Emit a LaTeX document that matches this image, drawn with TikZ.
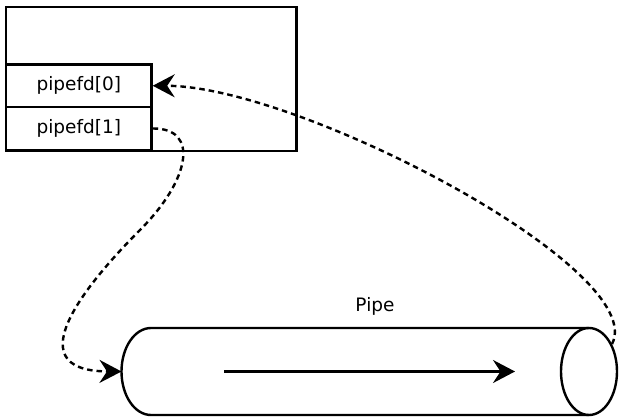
\documentclass[tikz,border=0pt]{standalone}
\usepackage{fontspec}
\setmainfont{DejaVu Sans}
\usetikzlibrary{arrows.meta,shapes.geometric}
\begin{document}
\begin{tikzpicture}[x=1pt,y=-1pt,
  line width=2.4pt,
  every node/.style={font=\fontsize{18.5}{22}\selectfont},
  box/.style={draw,rectangle,inner sep=0pt},
  fdcell/.style={box,minimum width=145.5pt,minimum height=42.5pt},
  tip/.style={-{Stealth[length=22pt,width=23pt,inset=7.5pt]}},
  link/.style={dash pattern=on 5.5pt off 4pt,tip},
  flow/.style={tip}]
  \useasboundingbox (0,0) rectangle (619,417);

  % process with its two descriptors
  \node[box,minimum width=290.5pt,minimum height=144pt] (proc) at (151.25,79) {};
  \node[fdcell] (fd0) at (78.75,85.75) {pipefd[0]};
  \node[fdcell] (fd1) at (78.75,128.5) {pipefd[1]};

  % the pipe as a cylinder lying on its side
  \coordinate (pipein) at (121.5,371.5);
  \node[draw,ellipse,minimum width=56pt,minimum height=87pt,inner sep=0pt] (pipeend) at (589,371.5) {};
  \draw (589,328) -- (151,328) arc[start angle=-90,end angle=-270,x radius=29.5,y radius=43.5] -- (589,415);
  \node (pipelabel) at (375,306) {Pipe};

  \coordinate (flowfrom) at (224,371.5);
  \coordinate (flowto) at (515,371.5);
  \draw[flow] (flowfrom) -- (flowto);

  % write end into the pipe, read end out of it
  \draw[link] (fd1.east) .. controls (200,128) and (190,180) .. (140,230)
              .. controls (95,275) and (10,371) .. (pipein);
  \draw[link] (pipeend.50) .. controls (650,270) and (300,86) .. (fd0.east);
\end{tikzpicture}
\end{document}
